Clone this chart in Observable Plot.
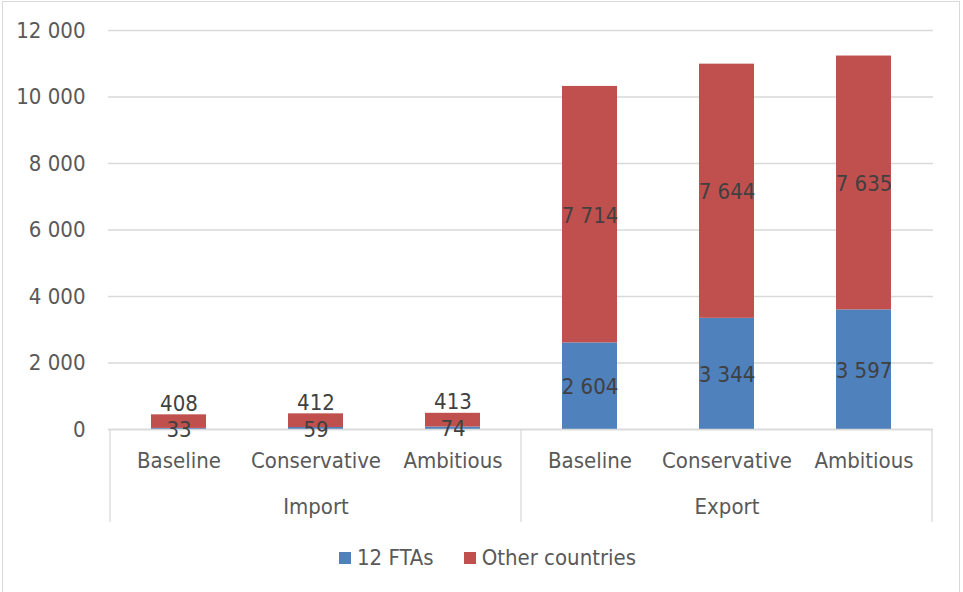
<!DOCTYPE html>
<html><head><meta charset="utf-8">
<script src="https://cdn.jsdelivr.net/npm/d3@7"></script>
<script src="https://cdn.jsdelivr.net/npm/@observablehq/plot@0.6"></script>
<style>
body{margin:0;background:#fff;}
#wrap{position:relative;width:963px;height:592px;overflow:hidden;background:#fff;font-family:"Liberation Sans Narrow","DejaVu Sans Condensed",Lato,sans-serif;}
#border{position:absolute;left:2px;top:1px;width:958px;height:600px;border:1.5px solid #d9d9d9;box-sizing:border-box;pointer-events:none;}
#legend{position:absolute;left:6px;top:545px;width:963px;display:flex;justify-content:center;gap:30px;font-size:22px;color:#595959;}
#legend .item{display:flex;align-items:center;gap:6px;}
#legend .sw{width:12px;height:12px;display:inline-block;}
</style></head>
<body><div id="wrap"><div id="chart"></div><div id="legend"></div><div id="border"></div></div>
<script>
const groups = ["Import","Import","Import","Export","Export","Export"];
const scenarios = ["Baseline","Conservative","Ambitious","Baseline","Conservative","Ambitious"];
const ftas = [33,59,74,2604,3344,3597];
const others = [408,412,413,7714,7644,7635];
const seriesNames = ["12 FTAs","Other countries"];
const seriesColors = ["#4F81BD","#C0504D"];
const yTicks = [0,2000,4000,6000,8000,10000,12000];

const fmt = v => d3.format(",")(v).replace(/,/g," ");
const keys = groups.map((g,i)=>g+"|"+scenarios[i]);
const rows = [];
keys.forEach((k,i)=>{
  rows.push({key:k, group:groups[i], series:seriesNames[0], value:ftas[i]});
  rows.push({key:k, group:groups[i], series:seriesNames[1], value:others[i]});
});
const midRows = rows.filter(d=>!(d.group==="Import" && d.series===seriesNames[1]));
const topRows = keys.map((k,i)=>({key:k, total:ftas[i]+others[i], value:others[i]})).filter((d,i)=>groups[i]==="Import");
const groupNames = [...new Set(groups)];
const groupLabelRows = groupNames.map(g=>{const ks=keys.filter((k,i)=>groups[i]===g);return {key:ks[Math.floor(ks.length/2)], group:g};});

const FONT = '"Liberation Sans Narrow","DejaVu Sans Condensed",Lato,sans-serif';
const plot = Plot.plot({
  width:963, height:535,
  marginLeft:108, marginRight:30, marginTop:30, marginBottom:106,
  style:{fontFamily:FONT, fontSize:"22px", color:"#595959", background:"transparent"},
  x:{domain:keys, paddingInner:0.6, paddingOuter:0.3, axis:null},
  y:{domain:[0,12000], axis:null},
  color:{domain:seriesNames, range:seriesColors},
  marks:[
    Plot.gridY(yTicks,{stroke:"#d9d9d9", strokeOpacity:1, strokeWidth:1.3}),
    Plot.axisY(yTicks,{tickSize:0, tickPadding:23, tickFormat:fmt, fontSize:22, fill:"#595959", label:null}),
    Plot.barY(rows, Plot.stackY({x:"key", y:"value", fill:"series", z:"series"})),
    Plot.ruleY([0],{stroke:"#d9d9d9", strokeWidth:1.3}),
    Plot.axisX({tickSize:0, tickPadding:23, tickFormat:k=>k.split("|")[1], fontSize:22, fill:"#595959", label:null}),
    Plot.text(groupLabelRows,{x:"key", text:"group", frameAnchor:"bottom", dy:84, fontSize:22, fill:"#595959"}),
    Plot.text(midRows, Plot.stackY({x:"key", y:"value", z:"series", text:d=>fmt(d.value), dy:1, fontSize:22, fill:"#404040"})),
    Plot.text(topRows,{x:"key", y:"total", text:d=>fmt(d.value), lineAnchor:"bottom", dy:-4, fontSize:22, fill:"#404040"})
  ]
});
document.getElementById("chart").appendChild(plot);

// category dividers using the plot's own x and y scales
const xs = plot.scale("x"), ys = plot.scale("y");
const gap = (xs.step - xs.bandwidth)/2;
const edges = [];
groupNames.forEach(g=>{const ks=keys.filter((k,i)=>groups[i]===g); edges.push(xs.apply(ks[0])-gap);});
edges.push(xs.apply(keys[keys.length-1])+xs.bandwidth+gap);
const y0 = ys.apply(0);
d3.select(plot).append("g").selectAll("line").data(edges).join("line")
  .attr("x1",d=>d).attr("x2",d=>d).attr("y1",y0).attr("y2",y0+93)
  .attr("stroke","#d9d9d9").attr("stroke-width",1.3);

const lg = d3.select("#legend");
seriesNames.forEach((s,i)=>{
  const it = lg.append("div").attr("class","item");
  it.append("span").attr("class","sw").style("background",seriesColors[i]);
  it.append("span").text(s);
});
</script></body></html>
